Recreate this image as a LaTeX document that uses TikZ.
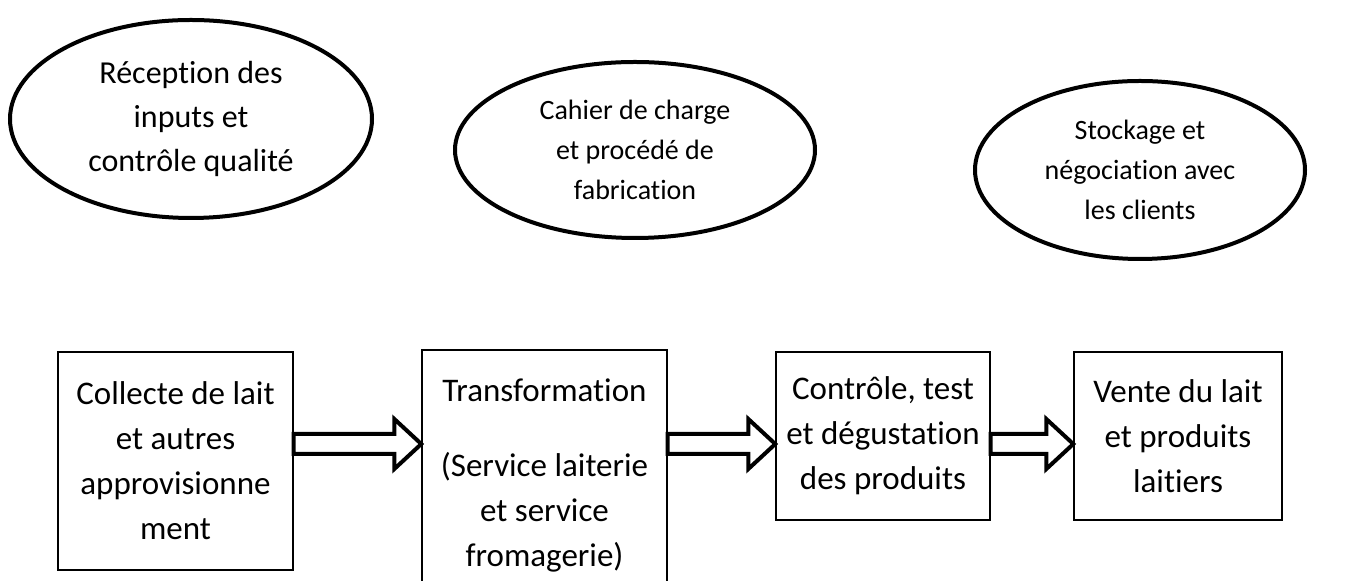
\documentclass[tikz,border=0pt]{standalone}
\usepackage{fontspec}
\setmainfont{Carlito}[Ligatures=NoCommon]
\usepackage{tikz}
\usetikzlibrary{positioning,shapes.geometric,calc}
\tikzset{
    task/.style={
        ellipse,
        draw=black,
        line width=2pt,
        inner sep=0pt,
        align=center,
        font=\fontsize{14}{20}\selectfont,
    },
    stage/.style={
        rectangle,
        draw=black,
        line width=0.7pt,
        inner sep=0pt,
        align=center,
        font=\fontsize{16.5}{22.5}\selectfont,
    },
    flowarrow/.style={
        draw=black,
        line width=2pt,
        fill=white,
        line join=miter,
    },
}
% hollow block arrow between two points
\newcommand{\hollowarrow}[2]{%
    \draw[flowarrow] ($(#1)+(0,-10)$) -- ($(#2)+(-27,-10)$) -- ($(#2)+(-27,-25)$)
        -- (#2) -- ($(#2)+(-27,25)$) -- ($(#2)+(-27,10)$) -- ($(#1)+(0,10)$) -- cycle;
}

\begin{document}
\begin{tikzpicture}[x=0.5pt, y=-0.5pt]
    \useasboundingbox (0,0) rectangle (1367,581);

    % Tasks (top row)
    \node[task, minimum width=181pt, minimum height=99pt,
          font=\fontsize{16}{22}\selectfont] (reception) at (191,119)
        {Réception des\\inputs et\\contrôle qualité};
    \node[task, minimum width=180pt, minimum height=88pt] (cahier) at (635,150)
        {Cahier de charge\\et procédé de\\fabrication};
    \node[task, minimum width=165pt, minimum height=89pt] (stockage) at (1140,170)
        {Stockage et\\négociation avec\\les clients};

    % Stages (bottom row)
    \node[stage, minimum width=117.5pt, minimum height=109pt] (collecte) at (175.5,461)
        {Collecte de lait\\et autres\\approvisionne\\ment};
    \node[stage, minimum width=122.5pt, minimum height=125pt] (transfo) at (544.5,475)
        {Transformation\\[15pt](Service laiterie\\et service\\fromagerie)};
    \node[stage, minimum width=107pt, minimum height=84pt] (controle) at (883,436)
        {Contrôle, test\\et dégustation\\des produits};
    \node[stage, minimum width=104pt, minimum height=84pt] (vente) at (1178,436)
        {Vente du lait\\et produits\\laitiers};

    % Flow arrows
    \hollowarrow{collecte.east |- 0,444}{transfo.west |- 0,444}
    \hollowarrow{transfo.east |- 0,444}{controle.west |- 0,444}
    \hollowarrow{controle.east |- 0,444}{vente.west |- 0,444}

\end{tikzpicture}
\end{document}
